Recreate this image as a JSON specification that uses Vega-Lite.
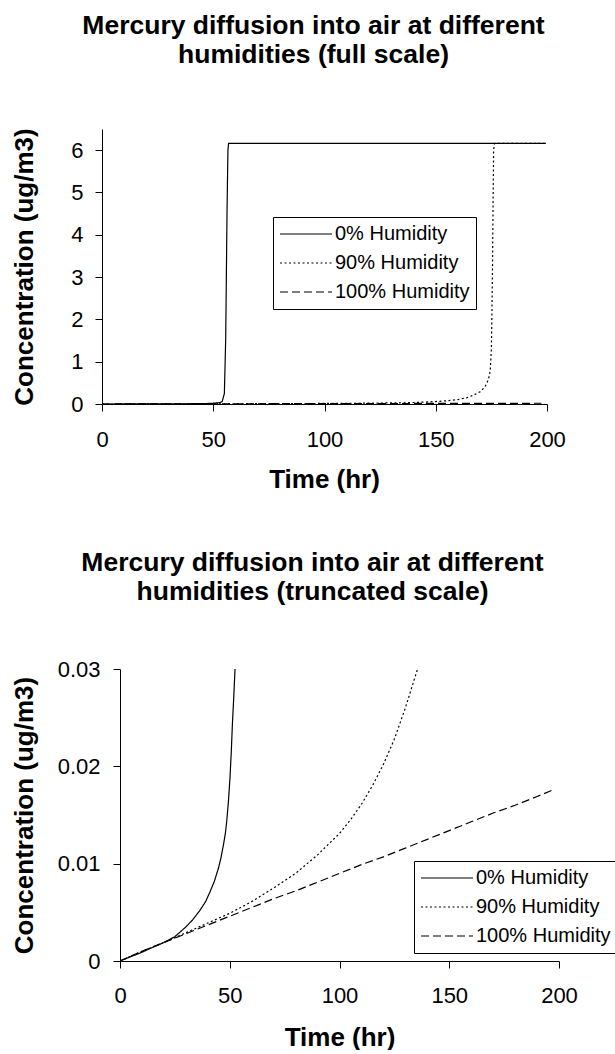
{
  "$schema": "https://vega.github.io/schema/vega-lite/v6.json",
  "background": "white",
  "padding": {"left": 11, "top": 13, "right": 0, "bottom": 0},
  "align": "none",
  "spacing": 57,
  "resolve": {
    "scale": {"strokeDash": "independent"},
    "legend": {"strokeDash": "independent"}
  },
  "config": {
    "font": "Liberation Sans",
    "view": {"stroke": null},
    "axis": {
      "grid": false,
      "domainColor": "black",
      "tickColor": "black",
      "labelColor": "black",
      "titleColor": "black",
      "labelFont": "Liberation Sans",
      "titleFont": "Liberation Sans",
      "labelFontSize": 22,
      "titleFontSize": 26,
      "titleFontWeight": "bold",
      "tickSize": 7,
      "domainWidth": 1,
      "tickWidth": 1,
      "labelFlush": false
    },
    "title": {
      "font": "Liberation Sans",
      "fontSize": 26.5,
      "fontWeight": "bold",
      "color": "black",
      "lineHeight": 29
    },
    "legend": {
      "symbolType": "stroke",
      "symbolSize": 2704,
      "symbolStrokeWidth": 1.2,
      "symbolStrokeColor": "black",
      "labelFont": "Liberation Sans",
      "labelFontSize": 20,
      "labelColor": "black",
      "strokeColor": "black",
      "fillColor": "white",
      "padding": 6,
      "rowPadding": 7,
      "clipHeight": 22,
      "labelOffset": 2,
      "cornerRadius": 0,
      "direction": "vertical"
    }
  },
  "data": {
    "values": [
      {"series": "0% Humidity", "time": 0, "conc": 0},
      {"series": "0% Humidity", "time": 5, "conc": 0.00045},
      {"series": "0% Humidity", "time": 10, "conc": 0.0009},
      {"series": "0% Humidity", "time": 15, "conc": 0.00142},
      {"series": "0% Humidity", "time": 20, "conc": 0.0019},
      {"series": "0% Humidity", "time": 25, "conc": 0.0025},
      {"series": "0% Humidity", "time": 30, "conc": 0.0035},
      {"series": "0% Humidity", "time": 33, "conc": 0.0042},
      {"series": "0% Humidity", "time": 36.4, "conc": 0.0052},
      {"series": "0% Humidity", "time": 39, "conc": 0.0061},
      {"series": "0% Humidity", "time": 41, "conc": 0.0071},
      {"series": "0% Humidity", "time": 43, "conc": 0.0082},
      {"series": "0% Humidity", "time": 44.8, "conc": 0.0095},
      {"series": "0% Humidity", "time": 46, "conc": 0.0106},
      {"series": "0% Humidity", "time": 47.1, "conc": 0.0119},
      {"series": "0% Humidity", "time": 48, "conc": 0.0131},
      {"series": "0% Humidity", "time": 48.6, "conc": 0.0143},
      {"series": "0% Humidity", "time": 49.4, "conc": 0.0164},
      {"series": "0% Humidity", "time": 50.1, "conc": 0.0188},
      {"series": "0% Humidity", "time": 50.7, "conc": 0.0215},
      {"series": "0% Humidity", "time": 51.2, "conc": 0.0243},
      {"series": "0% Humidity", "time": 51.8, "conc": 0.027},
      {"series": "0% Humidity", "time": 52.4, "conc": 0.03},
      {"series": "0% Humidity", "time": 53, "conc": 0.036},
      {"series": "0% Humidity", "time": 54, "conc": 0.055},
      {"series": "0% Humidity", "time": 55, "conc": 0.25},
      {"series": "0% Humidity", "time": 55.6, "conc": 1.55},
      {"series": "0% Humidity", "time": 56.2, "conc": 4.58},
      {"series": "0% Humidity", "time": 56.6, "conc": 6.0},
      {"series": "0% Humidity", "time": 56.9, "conc": 6.16},
      {"series": "0% Humidity", "time": 100, "conc": 6.16},
      {"series": "0% Humidity", "time": 150, "conc": 6.16},
      {"series": "0% Humidity", "time": 199.5, "conc": 6.16},

      {"series": "90% Humidity", "time": 0, "conc": 0},
      {"series": "90% Humidity", "time": 10, "conc": 0.001},
      {"series": "90% Humidity", "time": 20, "conc": 0.0019},
      {"series": "90% Humidity", "time": 30, "conc": 0.0029},
      {"series": "90% Humidity", "time": 40, "conc": 0.0039},
      {"series": "90% Humidity", "time": 50, "conc": 0.0049},
      {"series": "90% Humidity", "time": 60, "conc": 0.0061},
      {"series": "90% Humidity", "time": 70, "conc": 0.0075},
      {"series": "90% Humidity", "time": 80, "conc": 0.009},
      {"series": "90% Humidity", "time": 90, "conc": 0.0109},
      {"series": "90% Humidity", "time": 100, "conc": 0.0131},
      {"series": "90% Humidity", "time": 105, "conc": 0.0145},
      {"series": "90% Humidity", "time": 110, "conc": 0.0161},
      {"series": "90% Humidity", "time": 115, "conc": 0.018},
      {"series": "90% Humidity", "time": 120, "conc": 0.0202},
      {"series": "90% Humidity", "time": 125, "conc": 0.0228},
      {"series": "90% Humidity", "time": 130, "conc": 0.026},
      {"series": "90% Humidity", "time": 135, "conc": 0.0296},
      {"series": "90% Humidity", "time": 137, "conc": 0.031},
      {"series": "90% Humidity", "time": 140, "conc": 0.036},
      {"series": "90% Humidity", "time": 145, "conc": 0.045},
      {"series": "90% Humidity", "time": 150, "conc": 0.058},
      {"series": "90% Humidity", "time": 155, "conc": 0.077},
      {"series": "90% Humidity", "time": 160, "conc": 0.105},
      {"series": "90% Humidity", "time": 164, "conc": 0.15},
      {"series": "90% Humidity", "time": 167, "conc": 0.21},
      {"series": "90% Humidity", "time": 170, "conc": 0.29},
      {"series": "90% Humidity", "time": 172, "conc": 0.4},
      {"series": "90% Humidity", "time": 173, "conc": 0.49},
      {"series": "90% Humidity", "time": 174, "conc": 0.65},
      {"series": "90% Humidity", "time": 174.5, "conc": 0.8},
      {"series": "90% Humidity", "time": 175, "conc": 1.3},
      {"series": "90% Humidity", "time": 175.2, "conc": 1.98},
      {"series": "90% Humidity", "time": 175.5, "conc": 3.2},
      {"series": "90% Humidity", "time": 175.7, "conc": 4.35},
      {"series": "90% Humidity", "time": 176, "conc": 6.0},
      {"series": "90% Humidity", "time": 176.4, "conc": 6.16},
      {"series": "90% Humidity", "time": 199.5, "conc": 6.16},

      {"series": "100% Humidity", "time": 0, "conc": 0},
      {"series": "100% Humidity", "time": 10, "conc": 0.001},
      {"series": "100% Humidity", "time": 20, "conc": 0.0019},
      {"series": "100% Humidity", "time": 30, "conc": 0.0028},
      {"series": "100% Humidity", "time": 40, "conc": 0.0037},
      {"series": "100% Humidity", "time": 50, "conc": 0.0046},
      {"series": "100% Humidity", "time": 60, "conc": 0.0055},
      {"series": "100% Humidity", "time": 70, "conc": 0.0064},
      {"series": "100% Humidity", "time": 80, "conc": 0.0072},
      {"series": "100% Humidity", "time": 90, "conc": 0.0081},
      {"series": "100% Humidity", "time": 100, "conc": 0.009},
      {"series": "100% Humidity", "time": 110, "conc": 0.0099},
      {"series": "100% Humidity", "time": 120, "conc": 0.0107},
      {"series": "100% Humidity", "time": 130, "conc": 0.0116},
      {"series": "100% Humidity", "time": 140, "conc": 0.0125},
      {"series": "100% Humidity", "time": 150, "conc": 0.0134},
      {"series": "100% Humidity", "time": 160, "conc": 0.0143},
      {"series": "100% Humidity", "time": 170, "conc": 0.0152},
      {"series": "100% Humidity", "time": 180, "conc": 0.016},
      {"series": "100% Humidity", "time": 190, "conc": 0.0169},
      {"series": "100% Humidity", "time": 197.5, "conc": 0.0176}
    ]
  },
  "vconcat": [
    {
      "title": {
        "text": ["Mercury diffusion into air at different", "humidities (full scale)"],
        "offset": 59,
        "dx": -20
      },
      "width": 427,
      "height": 275,
      "mark": {"type": "line", "color": "black", "strokeWidth": 1.2, "clip": false},
      "encoding": {
        "x": {
          "field": "time",
          "type": "quantitative",
          "scale": {"domain": [0, 200], "nice": false, "range": [-18, 427]},
          "axis": {"title": "Time (hr)", "values": [0, 50, 100, 150, 200], "format": "d", "labelPadding": 18, "titlePadding": 16, "titleX": 204}
        },
        "y": {
          "field": "conc",
          "type": "quantitative",
          "scale": {"domain": [0, 6.5], "nice": false},
          "axis": {"title": "Concentration (ug/m3)", "values": [0, 1, 2, 3, 4, 5, 6], "format": "d", "labelPadding": 12, "titlePadding": 33, "offset": 18}
        },
        "strokeDash": {
          "field": "series",
          "type": "nominal",
          "scale": {"domain": ["0% Humidity", "90% Humidity", "100% Humidity"], "range": [[1, 0], [2, 2.5], [8, 4]]},
          "legend": {"orient": "none", "legendX": 153, "legendY": 88, "title": null}
        }
      }
    },
    {
      "title": {
        "text": ["Mercury diffusion into air at different", "humidities (truncated scale)"],
        "offset": 53,
        "dx": -27
      },
      "width": 439,
      "height": 292,
      "mark": {"type": "line", "color": "black", "strokeWidth": 1.2, "clip": true},
      "encoding": {
        "x": {
          "field": "time",
          "type": "quantitative",
          "scale": {"domain": [0, 200], "nice": false},
          "axis": {"title": "Time (hr)", "values": [0, 50, 100, 150, 200], "format": "d", "labelPadding": 17, "titlePadding": 18}
        },
        "y": {
          "field": "conc",
          "type": "quantitative",
          "scale": {"domain": [0, 0.03], "nice": false},
          "axis": {"title": "Concentration (ug/m3)", "values": [0, 0.01, 0.02, 0.03], "format": ".2~f", "labelPadding": 13, "titlePadding": 20}
        },
        "strokeDash": {
          "field": "series",
          "type": "nominal",
          "scale": {"domain": ["0% Humidity", "90% Humidity", "100% Humidity"], "range": [[1, 0], [2, 2.5], [8, 4]]},
          "legend": {"orient": "none", "legendX": 294, "legendY": 192, "title": null}
        }
      }
    }
  ]
}
